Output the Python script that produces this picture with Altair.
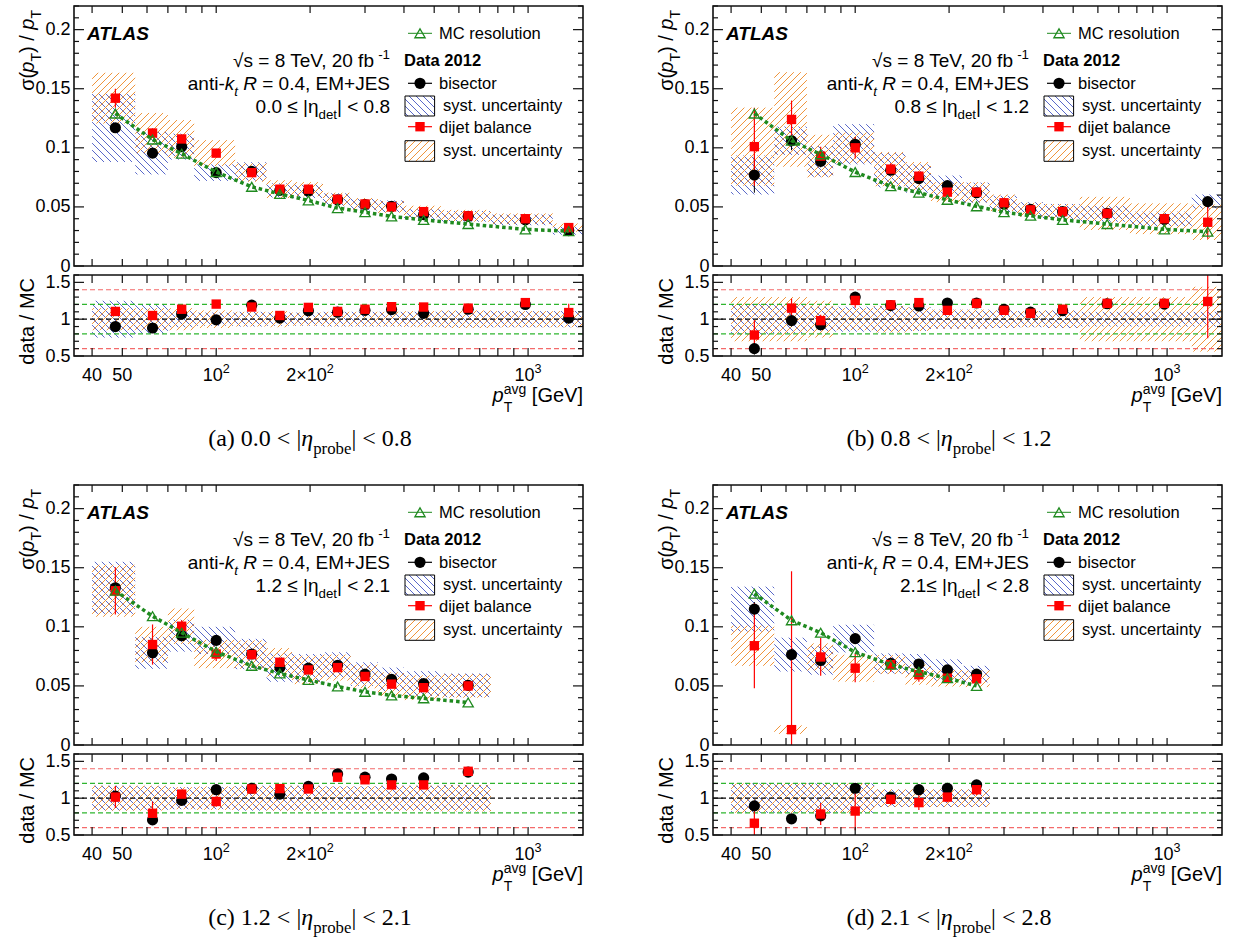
import math
import altair as alt
import pandas as pd

# ----------------------------- data -----------------------------
EDGES = [40, 55, 70, 85, 115, 145, 175, 220, 270, 330, 400, 525, 760, 1200, 1500]
CENTERS = [47.5, 62.5, 77.5, 100, 130, 160, 197.5, 245, 300, 365, 462.5, 642.5, 980, 1350]
TICK_X = [40, 50, 60, 70, 80, 90, 100, 200, 300, 400, 500, 600, 700, 800, 900, 1000]
LABEL_X = [40, 50, 100, 200, 1000]
LABEL_X_BASE = ["40", "50", "10", "2×10", "10"]
LABEL_X_EXP = ["", "", "2", "2", "3"]
TOP_MAJOR = [0, 0.05, 0.1, 0.15, 0.2]
RAT_MAJOR = [0.5, 1.0, 1.5]
REF_LEVELS = [0.6, 0.8, 1.0, 1.2, 1.4]

# (a) 0.0 < |eta| < 0.8
A_MC = [0.129, 0.107, 0.095, 0.0795, 0.067, 0.061, 0.0555, 0.049, 0.0455, 0.042, 0.039, 0.0355, 0.031, 0.0295]
A_BIS = [0.117, 0.0955, 0.101, 0.079, 0.080, 0.064, 0.0635, 0.056, 0.052, 0.0505, 0.0435, 0.042, 0.039, 0.030]
A_DIJ = [0.142, 0.1125, 0.1075, 0.0955, 0.079, 0.065, 0.065, 0.0565, 0.0525, 0.050, 0.046, 0.0425, 0.040, 0.0325]
A_BIS_ERR = [0.004, 0.003, 0.003, 0.002, 0.002, 0.001, 0.001, 0.001, 0.001, 0.001, 0.001, 0.001, 0.001, 0.002]
A_DIJ_ERR = [0.008, 0.004, 0.003, 0.002, 0.002, 0.001, 0.001, 0.001, 0.001, 0.001, 0.001, 0.001, 0.001, 0.003]
A_BIS_SYS = [0.029, 0.018, 0.011, 0.007, 0.0078, 0.006, 0.006, 0.0055, 0.005, 0.005, 0.0045, 0.0045, 0.0045, 0.0035]
A_DIJ_SYS = [0.0215, 0.017, 0.016, 0.011, 0.0078, 0.0075, 0.006, 0.0055, 0.005, 0.005, 0.005, 0.005, 0.0045, 0.0035]
A_R_BIS = [0.90, 0.88, 1.07, 0.99, 1.19, 1.015, 1.115, 1.095, 1.12, 1.13, 1.08, 1.135, 1.20, 1.015]
A_R_DIJ = [1.105, 1.05, 1.135, 1.205, 1.165, 1.05, 1.16, 1.105, 1.135, 1.17, 1.165, 1.15, 1.225, 1.09]
A_R_BIS_ERR = [0.03, 0.03, 0.03, 0.02, 0.02, 0.02, 0.02, 0.02, 0.02, 0.02, 0.02, 0.02, 0.03, 0.06]
A_R_DIJ_ERR = [0.05, 0.04, 0.03, 0.03, 0.03, 0.02, 0.02, 0.02, 0.02, 0.02, 0.02, 0.02, 0.03, 0.12]
A_RB_BIS = [0.25, 0.20, 0.11, 0.09, 0.10, 0.09, 0.09, 0.10, 0.10, 0.10, 0.10, 0.11, 0.11, 0.11]
A_RB_DIJ = [0.15, 0.15, 0.15, 0.12, 0.10, 0.11, 0.09, 0.10, 0.10, 0.10, 0.11, 0.12, 0.11, 0.11]
A_ETA = ("0.0 ≤ |η", "| < 0.8")
A_CAP = ("(a) 0.0 < |", "| < 0.8")

# (b) 0.8 < |eta| < 1.2
B_MC = [0.129, 0.106, 0.0945, 0.0795, 0.0675, 0.062, 0.056, 0.0505, 0.0455, 0.0425, 0.039, 0.0355, 0.031, 0.029]
B_BIS = [0.077, 0.106, 0.0885, 0.103, 0.081, 0.074, 0.068, 0.062, 0.0525, 0.048, 0.046, 0.0445, 0.0395, 0.0545]
B_DIJ = [0.101, 0.124, 0.093, 0.100, 0.082, 0.076, 0.0625, 0.0625, 0.0535, 0.0475, 0.046, 0.0445, 0.040, 0.037]
B_BIS_ERR = [0.015, 0.008, 0.005, 0.006, 0.003, 0.003, 0.002, 0.002, 0.002, 0.002, 0.002, 0.002, 0.002, 0.004]
B_DIJ_ERR = [0.033, 0.016, 0.008, 0.009, 0.005, 0.004, 0.003, 0.003, 0.002, 0.002, 0.002, 0.002, 0.002, 0.014]
B_BIS_SYS = [0.0165, 0.012, 0.013, 0.017, 0.0145, 0.012, 0.0085, 0.0085, 0.007, 0.006, 0.0065, 0.007, 0.0065, 0.006]
B_DIJ_SYS = [0.033, 0.040, 0.018, 0.013, 0.0145, 0.012, 0.0085, 0.0085, 0.007, 0.006, 0.0065, 0.014, 0.013, 0.015]
B_R_BIS = [0.60, 0.98, 0.925, 1.30, 1.185, 1.18, 1.22, 1.22, 1.135, 1.095, 1.115, 1.21, 1.205, None]
B_R_DIJ = [0.785, 1.15, 0.98, 1.255, 1.195, 1.225, 1.12, 1.215, 1.12, 1.08, 1.135, 1.215, 1.215, 1.24]
B_R_BIS_ERR = [0.08, 0.08, 0.05, 0.07, 0.04, 0.04, 0.03, 0.03, 0.03, 0.03, 0.03, 0.03, 0.03, 0.0]
B_R_DIJ_ERR = [0.20, 0.13, 0.08, 0.10, 0.06, 0.06, 0.04, 0.04, 0.03, 0.04, 0.05, 0.04, 0.04, 0.50]
B_RB_BIS = [0.21, 0.19, 0.17, 0.17, 0.18, 0.16, 0.13, 0.13, 0.12, 0.11, 0.12, 0.10, 0.10, 0.10]
B_RB_DIJ = [0.30, 0.30, 0.25, 0.15, 0.18, 0.16, 0.13, 0.13, 0.12, 0.11, 0.12, 0.30, 0.30, 0.44]
B_ETA = ("0.8 ≤ |η", "| < 1.2")
B_CAP = ("(b) 0.8 < |", "| < 1.2")

# (c) 1.2 < |eta| < 2.1
C_MC = [0.1305, 0.109, 0.095, 0.079, 0.067, 0.0605, 0.055, 0.0495, 0.045, 0.042, 0.0395, 0.036]
C_BIS = [0.133, 0.078, 0.0925, 0.0885, 0.077, 0.0655, 0.065, 0.0675, 0.060, 0.0555, 0.052, 0.0505]
C_DIJ = [0.1305, 0.085, 0.1005, 0.077, 0.0765, 0.070, 0.0635, 0.0655, 0.058, 0.0515, 0.0485, 0.050]
C_BIS_ERR = [0.006, 0.005, 0.003, 0.003, 0.002, 0.002, 0.002, 0.002, 0.002, 0.002, 0.002, 0.002]
C_DIJ_ERR = [0.020, 0.017, 0.005, 0.006, 0.003, 0.003, 0.002, 0.002, 0.002, 0.002, 0.002, 0.002]
C_BIS_SYS = [0.022, 0.0135, 0.0135, 0.0115, 0.0128, 0.012, 0.012, 0.011, 0.010, 0.010, 0.0105, 0.010]
C_DIJ_SYS = [0.022, 0.015, 0.015, 0.012, 0.012, 0.012, 0.012, 0.011, 0.010, 0.010, 0.0105, 0.010]
C_R_BIS = [1.03, 0.705, 0.97, 1.115, 1.135, 1.055, 1.16, 1.33, 1.285, 1.26, 1.275, 1.355]
C_R_DIJ = [1.015, 0.795, 1.055, 0.955, 1.125, 1.13, 1.125, 1.285, 1.25, 1.18, 1.18, 1.365]
C_R_BIS_ERR = [0.05, 0.06, 0.04, 0.04, 0.03, 0.03, 0.03, 0.03, 0.03, 0.03, 0.03, 0.03]
C_R_DIJ_ERR = [0.15, 0.16, 0.06, 0.07, 0.04, 0.04, 0.03, 0.03, 0.03, 0.03, 0.03, 0.03]
C_RB_BIS = [0.17, 0.16, 0.15, 0.15, 0.17, 0.17, 0.17, 0.16, 0.16, 0.17, 0.17, 0.18]
C_RB_DIJ = [0.17, 0.17, 0.15, 0.16, 0.16, 0.17, 0.17, 0.16, 0.16, 0.17, 0.17, 0.18]
C_ETA = ("1.2 ≤ |η", "| < 2.1")
C_CAP = ("(c) 1.2 < |", "| < 2.1")

# (d) 2.1 < |eta| < 2.8
D_MC = [0.128, 0.1055, 0.095, 0.0785, 0.068, 0.062, 0.0565, 0.050]
D_BIS = [0.115, 0.0765, 0.0715, 0.090, 0.069, 0.0685, 0.0635, 0.060]
D_DIJ = [0.084, 0.013, 0.0745, 0.065, 0.068, 0.0595, 0.0565, 0.056]
D_BIS_ERR = [0.006, 0.004, 0.004, 0.004, 0.003, 0.003, 0.003, 0.003]
D_DIJ_ERR = [0.036, 0.134, 0.016, 0.012, 0.006, 0.006, 0.004, 0.004]
D_BIS_SYS = [0.019, 0.0143, 0.012, 0.0117, 0.0085, 0.0085, 0.009, 0.007]
D_DIJ_SYS = [0.017, 0.0036, 0.0115, 0.0114, 0.008, 0.0085, 0.007, 0.007]
D_R_BIS = [0.895, 0.72, 0.76, 1.135, 1.015, 1.115, 1.135, 1.18]
D_R_DIJ = [0.66, None, 0.785, 0.825, 0.985, 0.94, 1.015, 1.115]
D_R_BIS_ERR = [0.06, 0.05, 0.05, 0.05, 0.04, 0.04, 0.04, 0.04]
D_R_DIJ_ERR = [0.22, 0.0, 0.15, 0.26, 0.08, 0.10, 0.07, 0.07]
D_RB_BIS = [0.20, 0.20, 0.20, 0.20, 0.12, 0.12, 0.12, 0.12]
D_RB_DIJ = [0.20, 0.20, 0.20, 0.20, 0.12, 0.12, 0.12, 0.12]
D_ETA = ("2.1≤ |η", "| < 2.8")
D_CAP = ("(d) 2.1 < |", "| < 2.8")

# ----------------------------- geometry / style -----------------------------
W, HT, GAP, HR = 509, 260, 9, 81
H = HT + GAP + HR
XMIN, XMAX = 35.0, 1500.0
YT_DOM = [0.0, 0.22]
YR_DOM = [0.5, 1.6]
LX = math.log10(XMAX / XMIN)

SANS = "Liberation Sans"
SERIF = "Liberation Serif"
BLUE = "#5060c6"
ORANGE = "#ee8e30"
GREEN = "#1f8a1f"
REF_COLORS = {0.6: "#f46a6a", 0.8: "#2fb52f", 1.0: "#000000", 1.2: "#2fb52f", 1.4: "#f46a6a"}
HSTEP = 7.0


def px_x(v):
    return W * math.log10(v / XMIN) / LX


def x_px(p):
    return XMIN * 10 ** (p * LX / W)


def py_t(v):
    return HT * (1 - (v - YT_DOM[0]) / (YT_DOM[1] - YT_DOM[0]))


def t_py(p):
    return YT_DOM[0] + (HT - p) / HT * (YT_DOM[1] - YT_DOM[0])


def py_r(v):
    return H - (v - YR_DOM[0]) / (YR_DOM[1] - YR_DOM[0]) * HR


def r_py(p):
    return YR_DOM[0] + (H - p) / HR * (YR_DOM[1] - YR_DOM[0])


def XS():
    return alt.Scale(type="log", domain=[XMIN, XMAX], nice=False)


def yT(clamp=False):
    return alt.Scale(domain=YT_DOM, range=[HT, 0], nice=False, zero=False, clamp=clamp)


def yR(clamp=False):
    return alt.Scale(domain=YR_DOM, range=[H, H - HR], nice=False, zero=False, clamp=clamp)


# ----------------------------- text metrics -----------------------------
_AR = {' ': 278, '(': 333, ')': 333, '+': 584, ',': 278, '-': 333, '.': 278, '/': 278, '<': 584,
       '=': 584, '[': 278, ']': 278, '|': 260, '√': 549, '≤': 549, 'σ': 573, 'η': 556, '×': 584}
for _d in '0123456789':
    _AR[_d] = 556
_AR.update(dict(zip('ABCDEFGHIJKLMNOPQRSTUVWXYZ',
                    [667, 667, 722, 722, 667, 611, 778, 722, 278, 500, 667, 556, 833, 722, 778, 667, 778,
                     722, 667, 611, 722, 667, 944, 667, 667, 611])))
_AR.update(dict(zip('abcdefghijklmnopqrstuvwxyz',
                    [556, 556, 500, 556, 556, 278, 556, 556, 222, 222, 500, 222, 833, 556, 556, 556, 556,
                     333, 500, 278, 556, 500, 722, 500, 500, 500])))
_ARB = dict(_AR)
_ARB.update({'A': 722, 'T': 611, 'L': 611, 'S': 667, 'D': 722, 't': 333, 'a': 556})
_TM = {' ': 250, '(': 333, ')': 333, '.': 250, '<': 564, '|': 200, 'η': 500, 'a': 444, 'b': 500,
       'c': 444, 'd': 500, 'e': 444, 'o': 500, 'p': 500, 'r': 333}
for _d in '0123456789':
    _TM[_d] = 500


def tw(s, font, bold):
    tab = _TM if font == SERIF else (_ARB if bold else _AR)
    dflt = 500 if font == SERIF else 556
    return sum(tab.get(ch, dflt) for ch in s) / 1000.0


def rich(pieces, x, y, size, align="left", angle=0, font=SANS):
    specs = []
    for text, st in pieces:
        small = ('d' in st) or ('u' in st)
        s = size * (0.7 if small else 1.0)
        bold = 'B' in st
        shift = 0.33 * size if 'd' in st else (-0.42 * size if 'u' in st else 0.0)
        lead = len(text) - len(text.lstrip(' '))
        lead_w = tw(' ' * lead, font, bold) * s
        specs.append((text.lstrip(' '), s, bold, 'i' in st, shift, tw(text, font, bold) * s, lead_w))
    total = sum(sp[5] for sp in specs)
    cum = {"left": 0.0, "right": -total, "center": -total / 2}[align]
    rows = []
    for text, s, bold, it, shift, w, off in specs:
        if text:
            if angle == 0:
                px, py = x + cum + off, y + shift
            else:
                px, py = x + shift, y - cum - off
            rows.append(dict(px=px, py=py, text=text, size=s, font=font, bold=bold, italic=it, angle=angle))
        cum += w
    return rows


# ----------------------------- helpers -----------------------------
def hatch_px(X0, X1, Y0, Y1, direction, step=HSTEP):
    out = []
    if direction == "fwd":
        k0 = math.ceil((X0 + Y0) / step)
        k1 = math.floor((X1 + Y1) / step)
        for k in range(k0, k1 + 1):
            c = k * step
            xa, xb = max(X0, c - Y1), min(X1, c - Y0)
            if xb - xa > 0.3:
                out.append((xa, c - xa, xb, c - xb))
    else:
        k0 = math.ceil((X0 - Y1) / step)
        k1 = math.floor((X1 - Y0) / step)
        for k in range(k0, k1 + 1):
            c = k * step
            xa, xb = max(X0, Y0 + c), min(X1, Y1 + c)
            if xb - xa > 0.3:
                out.append((xa, xa - c, xb, xb - c))
    return out


def hatch_df(boxes, yfun, yinv, direction, pixel=False):
    rows = []
    for xa, xb, ya, yb in boxes:
        if pixel:
            X0, X1, Y0, Y1 = xa, xb, ya, yb
        else:
            X0, X1 = px_x(xa), px_x(xb)
            Y0, Y1 = sorted((yfun(ya), yfun(yb)))
        for p, q, r, s in hatch_px(X0, X1, Y0, Y1, direction):
            rows.append(dict(x=x_px(p), x2=x_px(r), y=yinv(q), y2=yinv(s)))
    return pd.DataFrame(rows)


def seg_layer(df, yscale, color, width=1.0, dash=None):
    kw = dict(color=color, strokeWidth=width)
    if dash:
        kw["strokeDash"] = dash
    return alt.Chart(df).mark_rule(**kw).encode(
        x=alt.X("x:Q", scale=XS(), axis=None), x2="x2:Q",
        y=alt.Y("y:Q", scale=yscale, axis=None), y2="y2:Q")


def vbar_layer(df, yscale, color, width):
    return alt.Chart(df).mark_rule(color=color, strokeWidth=width).encode(
        x=alt.X("x:Q", scale=XS(), axis=None),
        y=alt.Y("lo:Q", scale=yscale, axis=None), y2="hi:Q")


def pts_layer(df, field, yscale, **mk):
    return alt.Chart(df).mark_point(opacity=1, **mk).encode(
        x=alt.X("x:Q", scale=XS(), axis=None),
        y=alt.Y(field + ":Q", scale=yscale, axis=None))


def text_layers(rows):
    df = pd.DataFrame(rows)
    df["xd"] = [x_px(p) for p in df.px]
    df["yd"] = [t_py(p) for p in df.py]
    out = []
    for (font, bold, it, ang), g in df.groupby(["font", "bold", "italic", "angle"]):
        kw = dict(align="left", baseline="alphabetic", font=font, color="black")
        if bold:
            kw["fontWeight"] = "bold"
        if it:
            kw["fontStyle"] = "italic"
        if ang:
            kw["angle"] = float(ang)
        out.append(alt.Chart(g[["xd", "yd", "text", "size"]].reset_index(drop=True)).mark_text(**kw).encode(
            x=alt.X("xd:Q", scale=XS(), axis=None),
            y=alt.Y("yd:Q", scale=yT(), axis=None),
            text="text:N",
            size=alt.Size("size:Q", scale=None)))
    return out


def tick_rows():
    top, rat = [], []
    for v in TICK_X:
        top.append(dict(x=v, x2=v, y=t_py(0), y2=t_py(7)))
        top.append(dict(x=v, x2=v, y=t_py(HT), y2=t_py(HT - 7)))
        rat.append(dict(x=v, x2=v, y=r_py(H - HR), y2=r_py(H - HR + 8)))
        rat.append(dict(x=v, x2=v, y=r_py(H), y2=r_py(H - 8)))
    minor_t = [k / 100 for k in range(0, 23) if k % 5 != 0]
    for v in TOP_MAJOR + minor_t:
        L = 10 if v in TOP_MAJOR else 5
        top.append(dict(x=x_px(0), x2=x_px(L), y=v, y2=v))
        top.append(dict(x=x_px(W - L), x2=x_px(W), y=v, y2=v))
    minor_r = [k / 10 for k in range(5, 17) if k % 5 != 0]
    for v in RAT_MAJOR + minor_r:
        L = 10 if v in RAT_MAJOR else 5
        rat.append(dict(x=x_px(0), x2=x_px(L), y=v, y2=v))
        rat.append(dict(x=x_px(W - L), x2=x_px(W), y=v, y2=v))
    return pd.DataFrame(top), pd.DataFrame(rat)


def panel(P):
    n = len(P["mc"])
    ctr, lo, hi = CENTERS[:n], EDGES[:n], EDGES[1:n + 1]
    L = []
    # --- systematic hatches (top)
    bb = [(lo[i], hi[i], P["bis"][i] - P["bs"][i], P["bis"][i] + P["bs"][i]) for i in range(n)]
    db = [(lo[i], hi[i], P["dij"][i] - P["ds"][i], P["dij"][i] + P["ds"][i]) for i in range(n)]
    L.append(seg_layer(hatch_df(bb, py_t, t_py, "back"), yT(), BLUE, 0.95))
    L.append(seg_layer(hatch_df(db, py_t, t_py, "fwd"), yT(), ORANGE, 0.95))
    # --- systematic hatches (ratio)
    rbb = [(lo[i], hi[i], 1 - P["bb"][i], 1 + P["bb"][i]) for i in range(n)]
    rdb = [(lo[i], hi[i], 1 - P["bd"][i], 1 + P["bd"][i]) for i in range(n)]
    L.append(seg_layer(hatch_df(rbb, py_r, r_py, "back"), yR(), BLUE, 0.95))
    L.append(seg_layer(hatch_df(rdb, py_r, r_py, "fwd"), yR(), ORANGE, 0.95))
    # --- ratio reference lines
    for lvl in REF_LEVELS:
        L.append(seg_layer(pd.DataFrame([dict(x=XMIN, x2=XMAX, y=lvl, y2=lvl)]), yR(),
                           REF_COLORS[lvl], 1.2, [5, 3]))
    # --- top data
    top = pd.DataFrame({"x": ctr, "mc": P["mc"], "bis": P["bis"], "dij": P["dij"],
                        "be": P["be"], "de": P["de"]})
    eb = pd.DataFrame({"x": top.x, "lo": top.bis - top.be, "hi": top.bis + top.be})
    ed = pd.DataFrame({"x": top.x, "lo": top.dij - top.de, "hi": top.dij + top.de})
    L.append(vbar_layer(eb, yT(True), "black", 1.0))
    L.append(vbar_layer(ed, yT(True), "#ff0000", 1.2))
    L.append(pts_layer(top, "bis", yT(), shape="circle", filled=True, color="black", size=125))
    L.append(pts_layer(top, "dij", yT(), shape="square", filled=True, color="#ff0000", size=88))
    L.append(alt.Chart(top).mark_line(color=GREEN, strokeWidth=3.5, strokeDash=[3.5, 3]).encode(
        x=alt.X("x:Q", scale=XS(), axis=None), y=alt.Y("mc:Q", scale=yT(), axis=None)))
    L.append(pts_layer(top, "mc", yT(), shape="triangle-up", filled=False, color=GREEN, size=105,
                       strokeWidth=1.3))
    # --- ratio data
    rb = pd.DataFrame({"x": ctr, "v": P["rb"], "e": P["rbe"]}).dropna()
    rd = pd.DataFrame({"x": ctr, "v": P["rd"], "e": P["rde"]}).dropna()
    L.append(vbar_layer(pd.DataFrame({"x": rb.x, "lo": rb.v - rb.e, "hi": rb.v + rb.e}), yR(True), "black", 1.0))
    L.append(vbar_layer(pd.DataFrame({"x": rd.x, "lo": rd.v - rd.e, "hi": rd.v + rd.e}), yR(True), "#ff0000", 1.2))
    L.append(pts_layer(rb, "v", yR(), shape="circle", filled=True, color="black", size=125))
    L.append(pts_layer(rd, "v", yR(), shape="square", filled=True, color="#ff0000", size=88))

    # --- legend symbols
    lx0, lx1, lxc = 334, 358, 346
    rows_leg = [(27.3, GREEN, 1.0), (77.3, "black", 1.2), (120.7, "#ff0000", 1.2)]
    for yy, col, wd in rows_leg:
        L.append(seg_layer(pd.DataFrame([dict(x=x_px(lx0), x2=x_px(lx1), y=t_py(yy), y2=t_py(yy))]), yT(), col, wd))
    L.append(pts_layer(pd.DataFrame([dict(x=x_px(lxc), y=t_py(27.3))]), "y", yT(), shape="triangle-up",
                       filled=False, color=GREEN, size=105, strokeWidth=1.3))
    L.append(pts_layer(pd.DataFrame([dict(x=x_px(lxc), y=t_py(77.3))]), "y", yT(), shape="circle",
                       filled=True, color="black", size=125))
    L.append(pts_layer(pd.DataFrame([dict(x=x_px(lxc), y=t_py(120.7))]), "y", yT(), shape="square",
                       filled=True, color="#ff0000", size=88))
    box1 = (331, 360.6, 90, 110)
    box2 = (331, 360.6, 134.7, 155.3)
    L.append(seg_layer(hatch_df([box1], None, t_py, "back", pixel=True), yT(), BLUE, 0.95))
    L.append(seg_layer(hatch_df([box2], None, t_py, "fwd", pixel=True), yT(), ORANGE, 0.95))
    boxes = pd.DataFrame([dict(x=x_px(b[0]), x2=x_px(b[1]), y=t_py(b[2]), y2=t_py(b[3])) for b in (box1, box2)])
    L.append(alt.Chart(boxes).mark_rect(fillOpacity=0, stroke="black", strokeWidth=1.0).encode(
        x=alt.X("x:Q", scale=XS(), axis=None), x2="x2:Q",
        y=alt.Y("y:Q", scale=yT(), axis=None), y2="y2:Q"))

    # --- texts
    R = []
    R += rich([("ATLAS", "Bi")], 13, 33.5, 19)
    R += rich([("MC resolution", "n")], 365, 33.2, 16.5)
    R += rich([("√s = 8 TeV, 20 fb", "n"), ("-1", "u")], 316, 60.8, 19, align="right")
    R += rich([("Data 2012", "B")], 330, 59.9, 16.5)
    R += rich([("anti-", "n"), ("k", "i"), ("t", "di"), (" ", "n"), ("R", "i"), (" = 0.4, EM+JES", "n")],
              316, 83.5, 19, align="right")
    R += rich([("bisector", "n")], 365, 83.2, 16.5)
    R += rich([(P["eta"][0], "n"), ("det", "d"), (P["eta"][1], "n")], 316, 106.8, 19, align="right")
    R += rich([("syst. uncertainty", "n")], 369, 105, 16.5)
    R += rich([("dijet balance", "n")], 365, 126.6, 16.5)
    R += rich([("syst. uncertainty", "n")], 369, 150, 16.5)
    # axis titles
    R += rich([("σ(", "n"), ("p", "i"), ("T", "d"), (")", "n"), (" / ", "n"), ("p", "i"), ("T", "d")],
              -40, 4, 20, align="right", angle=270)
    R += rich([("data / MC", "n")], -40, 272, 20, align="right", angle=270)
    g_start = W - tw(" [GeV]", SANS, False) * 20
    a_start = g_start - tw("avg", SANS, False) * 14
    R += rich([(" [GeV]", "n")], g_start, 396, 20)
    R += rich([("avg", "n")], a_start, 387.5, 14)
    R += rich([("T", "n")], a_start, 406, 14)
    R += rich([("p", "i")], a_start, 396, 20, align="right")
    # x tick labels
    for v, base, exp in zip(LABEL_X, LABEL_X_BASE, LABEL_X_EXP):
        pcs = [(base, "n")] + ([(exp, "u")] if exp else [])
        R += rich(pcs, px_x(v), 375, 18, align="center")
    # caption
    R += rich([(P["cap"][0], "n"), ("η", "i"), ("probe", "d"), (P["cap"][1], "n")], 236, 439.6, 24,
              align="center", font=SERIF)
    L += text_layers(R)

    # --- frames and ticks
    fr_t = pd.DataFrame({"x": [XMIN], "x2": [XMAX], "y": [YT_DOM[0]], "y2": [YT_DOM[1]]})
    fr_r = pd.DataFrame({"x": [XMIN], "x2": [XMAX], "y": [YR_DOM[0]], "y2": [YR_DOM[1]]})
    for fr, sc in ((fr_t, yT()), (fr_r, yR())):
        L.append(alt.Chart(fr).mark_rect(fillOpacity=0, stroke="#111111", strokeWidth=1.6).encode(
            x=alt.X("x:Q", scale=XS(), axis=None), x2="x2:Q",
            y=alt.Y("y:Q", scale=sc, axis=None), y2="y2:Q"))
    tt, tr = tick_rows()
    L.append(seg_layer(tt, yT(), "#111111", 1.2))
    L.append(seg_layer(tr, yR(), "#111111", 1.2))

    # --- y label axes
    dummy = pd.DataFrame({"v": [100.0], "t": [0.1], "r": [1.0]})
    L.append(alt.Chart(dummy).mark_point(opacity=0).encode(
        x=alt.X("v:Q", scale=XS(), axis=None),
        y=alt.Y("t:Q", scale=yT(), axis=alt.Axis(
            orient="left", values=TOP_MAJOR, format="~g", ticks=False, domain=False, grid=False,
            labelPadding=4, labelFontSize=18, labelFont=SANS, labelColor="black", labelOverlap=False,
            title=None))))
    L.append(alt.Chart(dummy).mark_point(opacity=0).encode(
        x=alt.X("v:Q", scale=XS(), axis=None),
        y=alt.Y("r:Q", scale=yR(), axis=alt.Axis(
            orient="left", values=RAT_MAJOR, format="~g", ticks=False, domain=False, grid=False,
            labelPadding=4, labelFontSize=18, labelFont=SANS, labelColor="black", labelOverlap=False,
            title=None))))

    return alt.layer(*L).properties(width=W, height=H).resolve_scale(y="independent").resolve_axis(
        y="independent")


PANELS = [
    dict(mc=A_MC, bis=A_BIS, dij=A_DIJ, be=A_BIS_ERR, de=A_DIJ_ERR, bs=A_BIS_SYS, ds=A_DIJ_SYS,
         rb=A_R_BIS, rd=A_R_DIJ, rbe=A_R_BIS_ERR, rde=A_R_DIJ_ERR, bb=A_RB_BIS, bd=A_RB_DIJ, eta=A_ETA, cap=A_CAP),
    dict(mc=B_MC, bis=B_BIS, dij=B_DIJ, be=B_BIS_ERR, de=B_DIJ_ERR, bs=B_BIS_SYS, ds=B_DIJ_SYS,
         rb=B_R_BIS, rd=B_R_DIJ, rbe=B_R_BIS_ERR, rde=B_R_DIJ_ERR, bb=B_RB_BIS, bd=B_RB_DIJ, eta=B_ETA, cap=B_CAP),
    dict(mc=C_MC, bis=C_BIS, dij=C_DIJ, be=C_BIS_ERR, de=C_DIJ_ERR, bs=C_BIS_SYS, ds=C_DIJ_SYS,
         rb=C_R_BIS, rd=C_R_DIJ, rbe=C_R_BIS_ERR, rde=C_R_DIJ_ERR, bb=C_RB_BIS, bd=C_RB_DIJ, eta=C_ETA, cap=C_CAP),
    dict(mc=D_MC, bis=D_BIS, dij=D_DIJ, be=D_BIS_ERR, de=D_DIJ_ERR, bs=D_BIS_SYS, ds=D_DIJ_SYS,
         rb=D_R_BIS, rd=D_R_DIJ, rbe=D_R_BIS_ERR, rde=D_R_DIJ_ERR, bb=D_RB_BIS, bd=D_RB_DIJ, eta=D_ETA, cap=D_CAP),
]

chart = alt.concat(*[panel(P) for P in PANELS], columns=2, spacing={"row": 129, "column": 130},
                   bounds="flush").properties(
    padding={"left": 17, "top": 5, "right": 4, "bottom": 2}, background="white"
).configure_view(stroke=None)

chart.save("out.html", embed_options={"renderer": "svg", "actions": False})
